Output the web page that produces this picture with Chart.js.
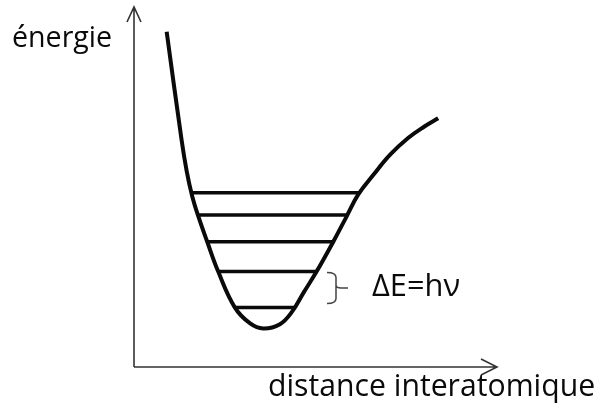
<!DOCTYPE html>
<html>
<head>
<meta charset="utf-8">
<script src="https://cdn.jsdelivr.net/npm/chart.js@4"></script>
<style>
  html, body { margin: 0; padding: 0; background: #fff; }
  #c { display: block; }
</style>
</head>
<body>
<canvas id="c" width="601" height="412"></canvas>
<script>
// potential curve (arbitrary units, 0..10 on both axes)
const curveX = [0.90, 1.31, 1.45, 1.60, 1.78, 2.01, 2.32, 2.78, 3.20, 3.56, 4.02, 4.35, 4.68, 5.03, 5.49, 5.83, 6.17, 6.59, 7.05, 7.55, 8.00, 8.38];
const curveY = [9.31, 6.31, 5.45, 4.76, 4.16, 3.50, 2.65, 1.65, 1.21, 1.07, 1.19, 1.53, 2.08, 2.65, 3.48, 4.13, 4.78, 5.33, 5.89, 6.36, 6.68, 6.91];

// vibrational levels: energy, left end, right end
const levelE = [1.65, 2.65, 3.48, 4.22, 4.84];
const levelL = [2.76, 2.32, 2.02, 1.76, 1.58];
const levelR = [4.42, 5.03, 5.49, 5.87, 6.20];

const yLabel = 'énergie';
const xLabel = 'distance interatomique';
const deltaLabel = 'ΔE=hν';

const ink = '#0a0a0a';
const axisInk = '#333';
const font = "'Open Sans', sans-serif";

const datasets = [{
  data: curveX.map((x, i) => ({ x, y: curveY[i] })),
  borderColor: ink,
  borderWidth: 4,
  pointRadius: 0,
  tension: 0.4,
  fill: false
}];
levelE.forEach((e, i) => {
  datasets.push({
    data: [{ x: levelL[i], y: e }, { x: levelR[i], y: e }],
    borderColor: ink,
    borderWidth: 3.5,
    pointRadius: 0,
    fill: false
  });
});

// draw text sized so it spans a given width
function fitText(ctx, text, x, y, width) {
  ctx.font = '20px ' + font;
  const size = 20 * width / ctx.measureText(text).width;
  ctx.font = size.toFixed(1) + 'px ' + font;
  ctx.fillText(text, x, y);
}

const decor = {
  id: 'decor',
  afterDraw(chart) {
    const ctx = chart.ctx;
    const xs = chart.scales.x, ys = chart.scales.y;
    const x0 = xs.getPixelForValue(0), x1 = xs.getPixelForValue(10);
    const y0 = ys.getPixelForValue(0), y1 = ys.getPixelForValue(10);
    ctx.save();
    // axes with open arrowheads
    ctx.strokeStyle = axisInk;
    ctx.lineWidth = 1.6;
    ctx.beginPath();
    ctx.moveTo(x0, y0); ctx.lineTo(x0, y1);
    ctx.moveTo(x0, y0); ctx.lineTo(x1, y0);
    ctx.moveTo(x0 - 7, y1 + 15); ctx.lineTo(x0, y1); ctx.lineTo(x0 + 7, y1 + 15);
    ctx.moveTo(x1 - 16, y0 - 8); ctx.lineTo(x1, y0); ctx.lineTo(x1 - 16, y0 + 8);
    ctx.stroke();

    // brace between the two lowest levels
    const bt = ys.getPixelForValue(levelE[1]) + 1;
    const bb = ys.getPixelForValue(levelE[0]) - 4;
    const bm = (bt + bb) / 2;
    const bx = 327, vx = 336;
    ctx.strokeStyle = '#444';
    ctx.lineWidth = 1.5;
    ctx.beginPath();
    ctx.moveTo(bx, bt);
    ctx.quadraticCurveTo(vx, bt, vx, bt + 5);
    ctx.lineTo(vx, bb - 5);
    ctx.quadraticCurveTo(vx, bb, bx, bb);
    ctx.moveTo(vx, bm - 3);
    ctx.quadraticCurveTo(vx, bm, vx + 5, bm);
    ctx.lineTo(vx + 12, bm);
    ctx.stroke();

    // texts
    ctx.fillStyle = ink;
    ctx.textBaseline = 'alphabetic';
    ctx.textAlign = 'left';
    fitText(ctx, yLabel, 12, 47, 100);
    fitText(ctx, xLabel, 268, 396, 327);
    fitText(ctx, deltaLabel, 372, 296, 88);
    ctx.restore();
  }
};

new Chart(document.getElementById('c'), {
  type: 'scatter',
  data: { datasets },
  options: {
    responsive: false,
    animation: false,
    showLine: true,
    layout: { padding: { left: 134, right: 104, top: 7, bottom: 45 } },
    plugins: { legend: { display: false }, tooltip: { enabled: false } },
    scales: {
      x: { type: 'linear', min: 0, max: 10, display: false },
      y: { type: 'linear', min: 0, max: 10, display: false }
    }
  },
  plugins: [decor]
});
</script>
</body>
</html>
